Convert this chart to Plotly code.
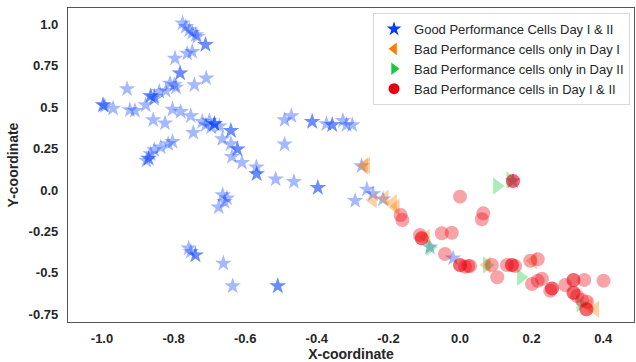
import plotly.graph_objects as go

# Good performance cells (stars)
good_x = [-0.775, -0.766, -0.756, -0.748, -0.738, -0.734, -0.711, -0.711,
          -0.796, -0.762, -0.748, -0.782, -0.782, -0.810, -0.798, -0.793,
          -0.742, -0.709, -0.930, -0.864, -0.864, -0.840, -0.822, -0.854,
          -0.854, -0.997, -0.997, -0.992, -0.969, -0.922, -0.908, -0.878,
          -0.857, -0.824, -0.803, -0.780, -0.752, -0.720, -0.710, -0.745,
          -0.700, -0.686, -0.686, -0.686, -0.672, -0.695,
          -0.803, -0.815, -0.836, -0.854, -0.864, -0.870, -0.870, -0.876,
          -0.640, -0.640, -0.664, -0.640, -0.622, -0.622, -0.637, -0.609,
          -0.569, -0.568, -0.568, -0.515, -0.464, -0.397, -0.397,
          -0.490, -0.471, -0.413, -0.413, -0.373, -0.357, -0.357, -0.327,
          -0.317, -0.301, -0.490, -0.275, -0.260, -0.243, -0.293, -0.215,
          -0.663, -0.651, -0.658, -0.674, -0.758, -0.752, -0.739, -0.739,
          -0.661, -0.635, -0.509, -0.509, -0.084, -0.019, 0.148]
good_y = [1.007, 0.986, 0.966, 0.950, 0.936, 0.926, 0.877, 0.877,
          0.795, 0.825, 0.835, 0.705, 0.705, 0.644, 0.634, 0.620,
          0.634, 0.675, 0.610, 0.568, 0.568, 0.594, 0.600, 0.563,
          0.550, 0.513, 0.513, 0.507, 0.493, 0.483, 0.479, 0.513,
          0.423, 0.403, 0.487, 0.473, 0.447, 0.412, 0.393, 0.346,
          0.417, 0.399, 0.399, 0.399, 0.386, 0.380,
          0.292, 0.278, 0.258, 0.242, 0.217, 0.191, 0.191, 0.177,
          0.358, 0.358, 0.308, 0.278, 0.246, 0.246, 0.201, 0.165,
          0.137, 0.097, 0.097, 0.065, 0.050, 0.014, 0.014,
          0.423, 0.447, 0.412, 0.412, 0.399, 0.393, 0.393, 0.418,
          0.393, 0.393, 0.276, 0.145, 0.004, -0.024, -0.065, -0.056,
          -0.030, -0.050, -0.071, -0.104, -0.352, -0.373, -0.393, -0.393,
          -0.443, -0.580, -0.580, -0.580, -0.346, -0.412, 0.054]

# Bad performance only in Day I (left triangles)
day1_x = [-0.268, -0.262, -0.243, -0.210, -0.187, -0.179, -0.095, 0.075, 0.204, 0.359, 0.378]
day1_y = [0.145, 0.148, -0.060, -0.050, -0.077, -0.104, -0.286, -0.453, -0.427, -0.700, -0.720]

# Bad performance only in Day II (right triangles)
day2_x = [0.103, 0.140, -0.084, 0.075, 0.170, 0.336]
day2_y = [0.024, 0.060, -0.346, -0.453, -0.527, -0.688]

# Bad performance in both days (circles)
both_x = [-0.166, -0.161, -0.107, -0.107, -0.112, -0.051, -0.023, 0.000, -0.042,
          0.000, 0.000, 0.014, 0.028, 0.065, 0.061, 0.148, 0.148, 0.023, 0.089,
          0.131, 0.145, 0.145, 0.154, 0.196, 0.217, 0.104, 0.201, 0.217, 0.229,
          0.257, 0.257, 0.252, 0.294, 0.317, 0.317, 0.347, 0.401, 0.317, 0.317,
          0.327, 0.341, 0.355, 0.353, 0.353]
both_y = [-0.151, -0.181, -0.292, -0.292, -0.272, -0.261, -0.258, -0.040, -0.386,
          -0.453, -0.453, -0.463, -0.459, -0.141, -0.177, 0.054, 0.054, -0.459, -0.453,
          -0.453, -0.453, -0.453, -0.459, -0.427, -0.418, -0.527, -0.568, -0.548, -0.536,
          -0.594, -0.594, -0.608, -0.574, -0.543, -0.543, -0.543, -0.548, -0.620, -0.620,
          -0.640, -0.664, -0.675, -0.720, -0.720]

x_ticks = [-1.0, -0.8, -0.6, -0.4, -0.2, 0.0, 0.2, 0.4]
x_tick_labels = ["-1.0", "-0.8", "-0.6", "-0.4", "-0.2", "0.0", "0.2", "0.4"]
y_ticks = [-0.75, -0.5, -0.25, 0.0, 0.25, 0.5, 0.75, 1.0]
y_tick_labels = ["-0.75", "-0.5", "-0.25", "0.0", "0.25", "0.5", "0.75", "1.0"]

names = ["Good Performance Cells Day I & II",
         "Bad Performance cells only in Day I",
         "Bad Performance cells only in Day II",
         "Bad Performance cells in Day I & II"]
colors = ["#023eff", "#ff7c00", "#1ac938", "#e8000b"]
symbols = ["star", "triangle-left", "triangle-right", "circle"]
sizes = [12.5, 15, 15, 14]
series = [(good_x, good_y), (day1_x, day1_y), (day2_x, day2_y), (both_x, both_y)]

fig = go.Figure()
for (xs, ys), c, s, sz in zip(series, colors, symbols, sizes):
    fig.add_trace(go.Scatter(x=xs, y=ys, mode="markers", showlegend=False,
                             marker=dict(color=c, symbol=s, size=sz, opacity=0.36,
                                         line=dict(width=0)), hoverinfo="skip"))
for n, c, s in zip(names, colors, symbols):
    fig.add_trace(go.Scatter(x=[None], y=[None], mode="markers", name=n,
                             marker=dict(color=c, symbol=s, size=11, line=dict(width=0))))

axis_font = dict(family="Liberation Sans, Arial, sans-serif", size=13, color="#262626", weight="bold")
fig.update_layout(
    width=636, height=362,
    margin=dict(l=68, r=2, t=8, b=40),
    plot_bgcolor="white", paper_bgcolor="white",
    font=dict(family="Liberation Sans, Arial, sans-serif", color="#262626"),
    legend=dict(x=0.993, y=0.984, xanchor="right", yanchor="top",
                bgcolor="white", bordercolor="#d9d9d9", borderwidth=1,
                font=dict(size=13, color="#262626"), itemwidth=30,
                tracegroupgap=0),
)
fig.update_xaxes(range=[-1.095, 0.486], tickvals=x_ticks, ticktext=x_tick_labels,
                 showgrid=False, zeroline=False, showline=True, mirror=True,
                 linecolor="#555555", linewidth=1.3, ticks="outside", ticklen=4,
                 tickcolor="rgba(0,0,0,0)", tickfont=axis_font,
                 title=dict(text="X-coordinate", font=dict(family="Liberation Sans, Arial, sans-serif",
                                                         size=14, color="#262626", weight="bold"),
                            standoff=4))
fig.update_yaxes(range=[-0.797, 1.099], tickvals=y_ticks, ticktext=y_tick_labels,
                 showgrid=False, zeroline=False, showline=True, mirror=True,
                 linecolor="#555555", linewidth=1.3, ticks="outside", ticklen=6,
                 tickcolor="rgba(0,0,0,0)", tickfont=axis_font,
                 title=dict(text="Y-coordinate", font=dict(family="Liberation Sans, Arial, sans-serif",
                                                         size=14, color="#262626", weight="bold"),
                            standoff=6))

fig.write_html("out.html")
